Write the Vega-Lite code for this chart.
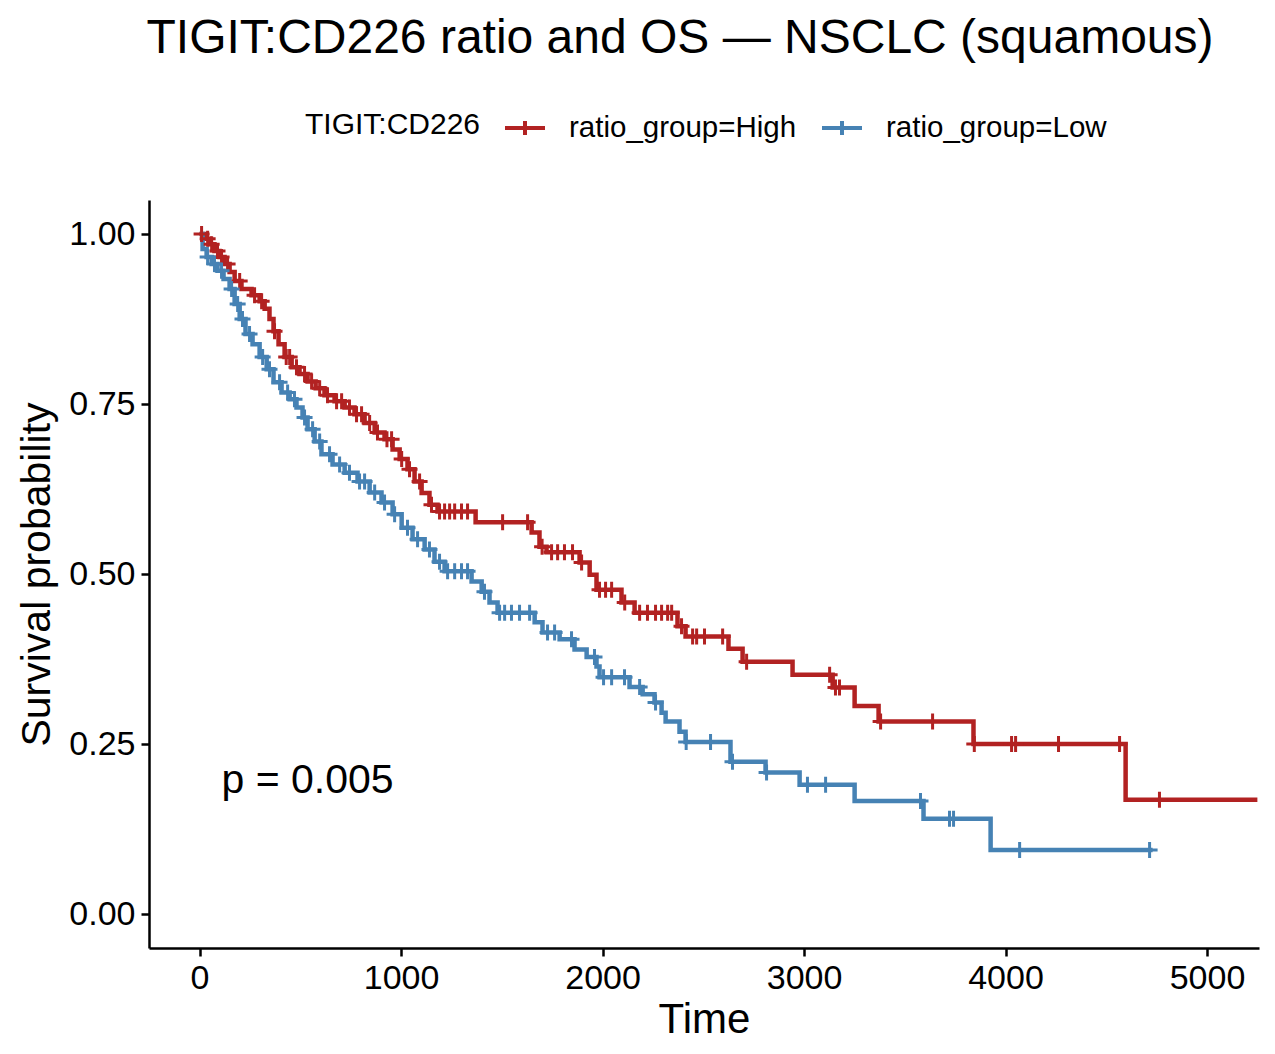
{
  "$schema": "https://vega.github.io/schema/vega-lite/v6.json",
  "width": 1110,
  "height": 748,
  "autosize": "none",
  "padding": {"left": 149, "top": 200, "right": 16, "bottom": 106},
  "background": "white",
  "config": {"view": {"stroke": null}, "font": "Liberation Sans"},
  "title": {
    "text": "TIGIT:CD226 ratio and OS — NSCLC (squamous)",
    "fontSize": 48,
    "fontWeight": "normal",
    "color": "black",
    "font": "Liberation Sans",
    "anchor": "middle",
    "frame": "group",
    "dx": -24,
    "offset": 43
  },
  "datasets": {
    "curves": [
      {"g": "ratio_group=High", "t": 0, "s": 1.0},
      {"g": "ratio_group=High", "t": 25, "s": 0.993},
      {"g": "ratio_group=High", "t": 50, "s": 0.985},
      {"g": "ratio_group=High", "t": 74, "s": 0.975},
      {"g": "ratio_group=High", "t": 99, "s": 0.966},
      {"g": "ratio_group=High", "t": 124, "s": 0.956},
      {"g": "ratio_group=High", "t": 149, "s": 0.944},
      {"g": "ratio_group=High", "t": 174, "s": 0.931},
      {"g": "ratio_group=High", "t": 208, "s": 0.919},
      {"g": "ratio_group=High", "t": 258, "s": 0.91},
      {"g": "ratio_group=High", "t": 298, "s": 0.901},
      {"g": "ratio_group=High", "t": 323, "s": 0.89},
      {"g": "ratio_group=High", "t": 347, "s": 0.875},
      {"g": "ratio_group=High", "t": 367, "s": 0.857},
      {"g": "ratio_group=High", "t": 392, "s": 0.838},
      {"g": "ratio_group=High", "t": 422, "s": 0.819},
      {"g": "ratio_group=High", "t": 457, "s": 0.804},
      {"g": "ratio_group=High", "t": 496, "s": 0.794},
      {"g": "ratio_group=High", "t": 536, "s": 0.783},
      {"g": "ratio_group=High", "t": 576, "s": 0.773},
      {"g": "ratio_group=High", "t": 620, "s": 0.763},
      {"g": "ratio_group=High", "t": 670, "s": 0.754},
      {"g": "ratio_group=High", "t": 720, "s": 0.745},
      {"g": "ratio_group=High", "t": 769, "s": 0.735},
      {"g": "ratio_group=High", "t": 819, "s": 0.722},
      {"g": "ratio_group=High", "t": 869, "s": 0.708},
      {"g": "ratio_group=High", "t": 918, "s": 0.698},
      {"g": "ratio_group=High", "t": 958, "s": 0.683},
      {"g": "ratio_group=High", "t": 993, "s": 0.669},
      {"g": "ratio_group=High", "t": 1032, "s": 0.654},
      {"g": "ratio_group=High", "t": 1067, "s": 0.636},
      {"g": "ratio_group=High", "t": 1102, "s": 0.619},
      {"g": "ratio_group=High", "t": 1141, "s": 0.602},
      {"g": "ratio_group=High", "t": 1181, "s": 0.592},
      {"g": "ratio_group=High", "t": 1370, "s": 0.576},
      {"g": "ratio_group=High", "t": 1648, "s": 0.561},
      {"g": "ratio_group=High", "t": 1687, "s": 0.54},
      {"g": "ratio_group=High", "t": 1722, "s": 0.532},
      {"g": "ratio_group=High", "t": 1886, "s": 0.517},
      {"g": "ratio_group=High", "t": 1936, "s": 0.499},
      {"g": "ratio_group=High", "t": 1970, "s": 0.477},
      {"g": "ratio_group=High", "t": 2094, "s": 0.458},
      {"g": "ratio_group=High", "t": 2159, "s": 0.443},
      {"g": "ratio_group=High", "t": 2372, "s": 0.423},
      {"g": "ratio_group=High", "t": 2412, "s": 0.408},
      {"g": "ratio_group=High", "t": 2625, "s": 0.39},
      {"g": "ratio_group=High", "t": 2695, "s": 0.371},
      {"g": "ratio_group=High", "t": 2943, "s": 0.352},
      {"g": "ratio_group=High", "t": 3142, "s": 0.333},
      {"g": "ratio_group=High", "t": 3251, "s": 0.306},
      {"g": "ratio_group=High", "t": 3370, "s": 0.283},
      {"g": "ratio_group=High", "t": 3841, "s": 0.25},
      {"g": "ratio_group=High", "t": 4596, "s": 0.168},
      {"g": "ratio_group=High", "t": 5250, "s": 0.168},
      {"g": "ratio_group=Low", "t": 0, "s": 1.0},
      {"g": "ratio_group=Low", "t": 15, "s": 0.978},
      {"g": "ratio_group=Low", "t": 35, "s": 0.966},
      {"g": "ratio_group=Low", "t": 60, "s": 0.956},
      {"g": "ratio_group=Low", "t": 89, "s": 0.946},
      {"g": "ratio_group=Low", "t": 119, "s": 0.934},
      {"g": "ratio_group=Low", "t": 149, "s": 0.919},
      {"g": "ratio_group=Low", "t": 174, "s": 0.897},
      {"g": "ratio_group=Low", "t": 199, "s": 0.875},
      {"g": "ratio_group=Low", "t": 228, "s": 0.853},
      {"g": "ratio_group=Low", "t": 263, "s": 0.838},
      {"g": "ratio_group=Low", "t": 298, "s": 0.819},
      {"g": "ratio_group=Low", "t": 333, "s": 0.801},
      {"g": "ratio_group=Low", "t": 367, "s": 0.782},
      {"g": "ratio_group=Low", "t": 407, "s": 0.767},
      {"g": "ratio_group=Low", "t": 447, "s": 0.757},
      {"g": "ratio_group=Low", "t": 481, "s": 0.745},
      {"g": "ratio_group=Low", "t": 511, "s": 0.73},
      {"g": "ratio_group=Low", "t": 536, "s": 0.713},
      {"g": "ratio_group=Low", "t": 571, "s": 0.695},
      {"g": "ratio_group=Low", "t": 605, "s": 0.676},
      {"g": "ratio_group=Low", "t": 660, "s": 0.661},
      {"g": "ratio_group=Low", "t": 720, "s": 0.649},
      {"g": "ratio_group=Low", "t": 784, "s": 0.636},
      {"g": "ratio_group=Low", "t": 844, "s": 0.62},
      {"g": "ratio_group=Low", "t": 903, "s": 0.605},
      {"g": "ratio_group=Low", "t": 958, "s": 0.588},
      {"g": "ratio_group=Low", "t": 1003, "s": 0.568},
      {"g": "ratio_group=Low", "t": 1057, "s": 0.551},
      {"g": "ratio_group=Low", "t": 1117, "s": 0.536},
      {"g": "ratio_group=Low", "t": 1166, "s": 0.518},
      {"g": "ratio_group=Low", "t": 1216, "s": 0.504},
      {"g": "ratio_group=Low", "t": 1350, "s": 0.489},
      {"g": "ratio_group=Low", "t": 1400, "s": 0.474},
      {"g": "ratio_group=Low", "t": 1439, "s": 0.458},
      {"g": "ratio_group=Low", "t": 1479, "s": 0.443},
      {"g": "ratio_group=Low", "t": 1663, "s": 0.429},
      {"g": "ratio_group=Low", "t": 1702, "s": 0.414},
      {"g": "ratio_group=Low", "t": 1787, "s": 0.404},
      {"g": "ratio_group=Low", "t": 1861, "s": 0.389},
      {"g": "ratio_group=Low", "t": 1921, "s": 0.378},
      {"g": "ratio_group=Low", "t": 1970, "s": 0.364},
      {"g": "ratio_group=Low", "t": 1985, "s": 0.348},
      {"g": "ratio_group=Low", "t": 2134, "s": 0.334},
      {"g": "ratio_group=Low", "t": 2199, "s": 0.323},
      {"g": "ratio_group=Low", "t": 2258, "s": 0.311},
      {"g": "ratio_group=Low", "t": 2293, "s": 0.296},
      {"g": "ratio_group=Low", "t": 2313, "s": 0.283},
      {"g": "ratio_group=Low", "t": 2382, "s": 0.268},
      {"g": "ratio_group=Low", "t": 2412, "s": 0.253},
      {"g": "ratio_group=Low", "t": 2635, "s": 0.224},
      {"g": "ratio_group=Low", "t": 2809, "s": 0.208},
      {"g": "ratio_group=Low", "t": 2978, "s": 0.19},
      {"g": "ratio_group=Low", "t": 3251, "s": 0.166},
      {"g": "ratio_group=Low", "t": 3593, "s": 0.14},
      {"g": "ratio_group=Low", "t": 3926, "s": 0.094},
      {"g": "ratio_group=Low", "t": 4730, "s": 0.094}
    ],
    "censor": [
      {"g": "ratio_group=High", "t": 10, "s": 1.0},
      {"g": "ratio_group=High", "t": 40, "s": 0.993},
      {"g": "ratio_group=High", "t": 60, "s": 0.985},
      {"g": "ratio_group=High", "t": 89, "s": 0.975},
      {"g": "ratio_group=High", "t": 109, "s": 0.966},
      {"g": "ratio_group=High", "t": 139, "s": 0.956},
      {"g": "ratio_group=High", "t": 199, "s": 0.931},
      {"g": "ratio_group=High", "t": 273, "s": 0.91},
      {"g": "ratio_group=High", "t": 308, "s": 0.901},
      {"g": "ratio_group=High", "t": 372, "s": 0.857},
      {"g": "ratio_group=High", "t": 430, "s": 0.819},
      {"g": "ratio_group=High", "t": 447, "s": 0.819},
      {"g": "ratio_group=High", "t": 481, "s": 0.804},
      {"g": "ratio_group=High", "t": 521, "s": 0.794},
      {"g": "ratio_group=High", "t": 556, "s": 0.783},
      {"g": "ratio_group=High", "t": 596, "s": 0.773},
      {"g": "ratio_group=High", "t": 635, "s": 0.763},
      {"g": "ratio_group=High", "t": 680, "s": 0.754},
      {"g": "ratio_group=High", "t": 705, "s": 0.754},
      {"g": "ratio_group=High", "t": 744, "s": 0.745},
      {"g": "ratio_group=High", "t": 779, "s": 0.735},
      {"g": "ratio_group=High", "t": 804, "s": 0.735},
      {"g": "ratio_group=High", "t": 844, "s": 0.722},
      {"g": "ratio_group=High", "t": 883, "s": 0.708},
      {"g": "ratio_group=High", "t": 930, "s": 0.698},
      {"g": "ratio_group=High", "t": 953, "s": 0.698},
      {"g": "ratio_group=High", "t": 1003, "s": 0.669},
      {"g": "ratio_group=High", "t": 1042, "s": 0.654},
      {"g": "ratio_group=High", "t": 1092, "s": 0.636},
      {"g": "ratio_group=High", "t": 1151, "s": 0.602},
      {"g": "ratio_group=High", "t": 1191, "s": 0.592},
      {"g": "ratio_group=High", "t": 1216, "s": 0.592},
      {"g": "ratio_group=High", "t": 1241, "s": 0.592},
      {"g": "ratio_group=High", "t": 1266, "s": 0.592},
      {"g": "ratio_group=High", "t": 1300, "s": 0.592},
      {"g": "ratio_group=High", "t": 1330, "s": 0.592},
      {"g": "ratio_group=High", "t": 1504, "s": 0.576},
      {"g": "ratio_group=High", "t": 1628, "s": 0.576},
      {"g": "ratio_group=High", "t": 1700, "s": 0.54},
      {"g": "ratio_group=High", "t": 1747, "s": 0.532},
      {"g": "ratio_group=High", "t": 1777, "s": 0.532},
      {"g": "ratio_group=High", "t": 1811, "s": 0.532},
      {"g": "ratio_group=High", "t": 1851, "s": 0.532},
      {"g": "ratio_group=High", "t": 1896, "s": 0.517},
      {"g": "ratio_group=High", "t": 1985, "s": 0.477},
      {"g": "ratio_group=High", "t": 2015, "s": 0.477},
      {"g": "ratio_group=High", "t": 2045, "s": 0.477},
      {"g": "ratio_group=High", "t": 2110, "s": 0.458},
      {"g": "ratio_group=High", "t": 2184, "s": 0.443},
      {"g": "ratio_group=High", "t": 2223, "s": 0.443},
      {"g": "ratio_group=High", "t": 2263, "s": 0.443},
      {"g": "ratio_group=High", "t": 2293, "s": 0.443},
      {"g": "ratio_group=High", "t": 2323, "s": 0.443},
      {"g": "ratio_group=High", "t": 2343, "s": 0.443},
      {"g": "ratio_group=High", "t": 2392, "s": 0.423},
      {"g": "ratio_group=High", "t": 2447, "s": 0.408},
      {"g": "ratio_group=High", "t": 2467, "s": 0.408},
      {"g": "ratio_group=High", "t": 2506, "s": 0.408},
      {"g": "ratio_group=High", "t": 2596, "s": 0.408},
      {"g": "ratio_group=High", "t": 2715, "s": 0.371},
      {"g": "ratio_group=High", "t": 3127, "s": 0.352},
      {"g": "ratio_group=High", "t": 3156, "s": 0.333},
      {"g": "ratio_group=High", "t": 3176, "s": 0.333},
      {"g": "ratio_group=High", "t": 3380, "s": 0.283},
      {"g": "ratio_group=High", "t": 3638, "s": 0.283},
      {"g": "ratio_group=High", "t": 3845, "s": 0.25},
      {"g": "ratio_group=High", "t": 4030, "s": 0.25},
      {"g": "ratio_group=High", "t": 4050, "s": 0.25},
      {"g": "ratio_group=High", "t": 4263, "s": 0.25},
      {"g": "ratio_group=High", "t": 4566, "s": 0.25},
      {"g": "ratio_group=High", "t": 4764, "s": 0.168},
      {"g": "ratio_group=Low", "t": 40, "s": 0.966},
      {"g": "ratio_group=Low", "t": 74, "s": 0.956},
      {"g": "ratio_group=Low", "t": 109, "s": 0.946},
      {"g": "ratio_group=Low", "t": 159, "s": 0.919},
      {"g": "ratio_group=Low", "t": 189, "s": 0.897},
      {"g": "ratio_group=Low", "t": 213, "s": 0.875},
      {"g": "ratio_group=Low", "t": 248, "s": 0.853},
      {"g": "ratio_group=Low", "t": 313, "s": 0.819},
      {"g": "ratio_group=Low", "t": 347, "s": 0.801},
      {"g": "ratio_group=Low", "t": 397, "s": 0.782},
      {"g": "ratio_group=Low", "t": 437, "s": 0.767},
      {"g": "ratio_group=Low", "t": 471, "s": 0.757},
      {"g": "ratio_group=Low", "t": 521, "s": 0.73},
      {"g": "ratio_group=Low", "t": 561, "s": 0.713},
      {"g": "ratio_group=Low", "t": 596, "s": 0.695},
      {"g": "ratio_group=Low", "t": 645, "s": 0.676},
      {"g": "ratio_group=Low", "t": 695, "s": 0.661},
      {"g": "ratio_group=Low", "t": 744, "s": 0.649},
      {"g": "ratio_group=Low", "t": 794, "s": 0.636},
      {"g": "ratio_group=Low", "t": 819, "s": 0.636},
      {"g": "ratio_group=Low", "t": 869, "s": 0.62},
      {"g": "ratio_group=Low", "t": 918, "s": 0.605},
      {"g": "ratio_group=Low", "t": 968, "s": 0.588},
      {"g": "ratio_group=Low", "t": 1032, "s": 0.568},
      {"g": "ratio_group=Low", "t": 1082, "s": 0.551},
      {"g": "ratio_group=Low", "t": 1141, "s": 0.536},
      {"g": "ratio_group=Low", "t": 1191, "s": 0.518},
      {"g": "ratio_group=Low", "t": 1231, "s": 0.504},
      {"g": "ratio_group=Low", "t": 1266, "s": 0.504},
      {"g": "ratio_group=Low", "t": 1300, "s": 0.504},
      {"g": "ratio_group=Low", "t": 1330, "s": 0.504},
      {"g": "ratio_group=Low", "t": 1414, "s": 0.474},
      {"g": "ratio_group=Low", "t": 1489, "s": 0.443},
      {"g": "ratio_group=Low", "t": 1514, "s": 0.443},
      {"g": "ratio_group=Low", "t": 1548, "s": 0.443},
      {"g": "ratio_group=Low", "t": 1588, "s": 0.443},
      {"g": "ratio_group=Low", "t": 1638, "s": 0.443},
      {"g": "ratio_group=Low", "t": 1727, "s": 0.414},
      {"g": "ratio_group=Low", "t": 1762, "s": 0.414},
      {"g": "ratio_group=Low", "t": 1846, "s": 0.404},
      {"g": "ratio_group=Low", "t": 1960, "s": 0.378},
      {"g": "ratio_group=Low", "t": 2005, "s": 0.348},
      {"g": "ratio_group=Low", "t": 2045, "s": 0.348},
      {"g": "ratio_group=Low", "t": 2109, "s": 0.348},
      {"g": "ratio_group=Low", "t": 2184, "s": 0.334},
      {"g": "ratio_group=Low", "t": 2263, "s": 0.311},
      {"g": "ratio_group=Low", "t": 2415, "s": 0.253},
      {"g": "ratio_group=Low", "t": 2536, "s": 0.253},
      {"g": "ratio_group=Low", "t": 2645, "s": 0.224},
      {"g": "ratio_group=Low", "t": 2814, "s": 0.208},
      {"g": "ratio_group=Low", "t": 3017, "s": 0.19},
      {"g": "ratio_group=Low", "t": 3107, "s": 0.19},
      {"g": "ratio_group=Low", "t": 3578, "s": 0.166},
      {"g": "ratio_group=Low", "t": 3722, "s": 0.14},
      {"g": "ratio_group=Low", "t": 3742, "s": 0.14},
      {"g": "ratio_group=Low", "t": 4070, "s": 0.094},
      {"g": "ratio_group=Low", "t": 4715, "s": 0.094}
    ],
    "pval": [{"t": 109, "s": 0.178, "label": "p = 0.005"}]
  },
  "encoding": {
    "x": {
      "field": "t", "type": "quantitative",
      "scale": {"domain": [-251, 5258], "nice": false, "zero": false},
      "axis": {
        "title": "Time", "titleFontSize": 42, "titleFontWeight": "normal", "titleColor": "black",
        "titlePadding": 4,
        "values": [0, 1000, 2000, 3000, 4000, 5000], "format": "d",
        "labelFontSize": 34, "labelColor": "black", "labelPadding": 5,
        "grid": false, "domainColor": "black", "domainWidth": 2.5,
        "tickColor": "black", "tickWidth": 2.5, "tickSize": 8
      }
    },
    "y": {
      "field": "s", "type": "quantitative",
      "scale": {"domain": [-0.05, 1.05], "nice": false, "zero": false},
      "axis": {
        "title": "Survival probability", "titleFontSize": 41, "titleFontWeight": "normal", "titleColor": "black",
        "titlePadding": 10,
        "values": [0, 0.25, 0.5, 0.75, 1], "format": ".2f",
        "labelFontSize": 34, "labelColor": "black", "labelPadding": 6,
        "grid": false, "domainColor": "black", "domainWidth": 2.5,
        "tickColor": "black", "tickWidth": 2.5, "tickSize": 8
      }
    }
  },
  "layer": [
    {
      "data": {"name": "curves"},
      "mark": {"type": "line", "interpolate": "step-after", "strokeWidth": 4.5, "strokeJoin": "miter", "strokeCap": "butt"},
      "encoding": {
        "color": {
          "field": "g", "type": "nominal",
          "scale": {"domain": ["ratio_group=High", "ratio_group=Low"], "range": ["#B22222", "#4682B4"]},
          "legend": {
            "orient": "none", "legendX": 156, "legendY": -94, "direction": "horizontal",
            "title": "TIGIT:CD226", "titleOrient": "left", "titleFontSize": 30, "titleFontWeight": "normal",
            "titleColor": "black", "titlePadding": 22, "titleBaseline": "middle", "titleLimit": 0,
            "labelFontSize": 29.5, "labelColor": "black", "labelOffset": 22, "columnPadding": 17, "labelLimit": 0,
            "symbolType": "M-1,0H1M0,-0.35V0.35", "symbolSize": 1600, "symbolStrokeWidth": 4
          }
        }
      }
    },
    {
      "data": {"name": "censor"},
      "mark": {"type": "point", "shape": "M-1,0H1M0,-1V1", "filled": false, "size": 256, "strokeWidth": 3, "opacity": 1},
      "encoding": {
        "color": {"field": "g", "type": "nominal", "legend": null}
      }
    },
    {
      "data": {"name": "pval"},
      "mark": {"type": "text", "align": "left", "baseline": "alphabetic", "fontSize": 41, "color": "black", "font": "Liberation Sans"},
      "encoding": {"text": {"field": "label"}}
    }
  ]
}
